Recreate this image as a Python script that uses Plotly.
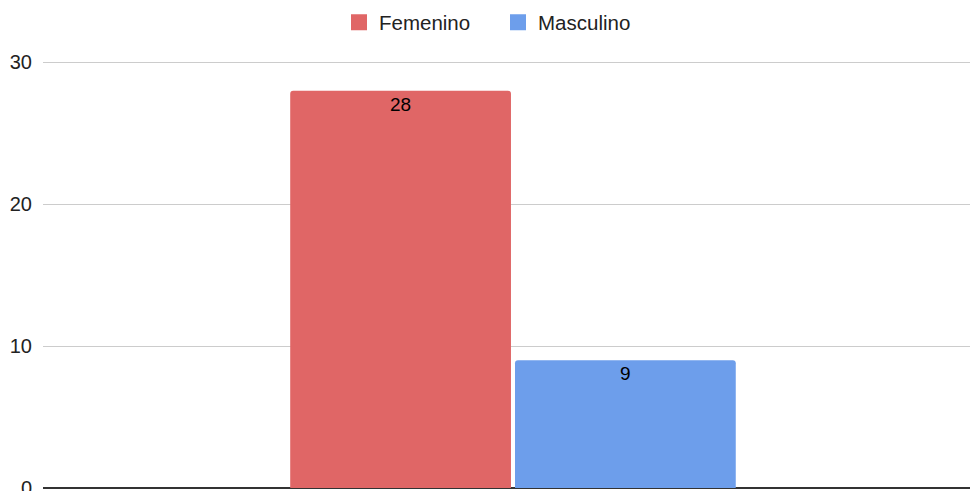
import plotly.graph_objects as go

categories = [""]
series_names = ["Femenino", "Masculino"]
femenino = [28]
masculino = [9]
colors = ["#e06666", "#6d9eeb"]
y_ticks = [0, 10, 20, 30]

FONT = "Liberation Sans, Arial, sans-serif"

fig = go.Figure()
for name, vals, col in zip(series_names, [femenino, masculino], colors):
    fig.add_trace(go.Bar(
        x=categories, y=vals, name=name, showlegend=False,
        marker=dict(color=col, cornerradius=3, line=dict(width=0)),
        text=[str(v) for v in vals], textposition="inside", insidetextanchor="end",
        textfont=dict(color="#000000", size=19, family=FONT),
        textangle=0,
    ))
# legend entries with square symbols
for name, col in zip(series_names, colors):
    fig.add_trace(go.Scatter(
        x=[None], y=[None], mode="markers", name=name,
        marker=dict(symbol="square", size=20, color=col),
    ))

fig.update_layout(
    width=970, height=491,
    margin=dict(l=43, r=0, t=61, b=3, autoexpand=False),
    paper_bgcolor="white", plot_bgcolor="white",
    barmode="group", bargap=0.515, bargroupgap=0.018,
    font=dict(family=FONT, size=20, color="#222222"),
    showlegend=True,
    legend=dict(orientation="h", x=(339 - 43) / 927, xanchor="left", yref="container",
                y=0.995, yanchor="top", font=dict(size=20.5, color="#222222"),
                itemsizing="trace", entrywidth=114, entrywidthmode="pixels"),
    xaxis=dict(range=[-0.507, 0.493], showticklabels=False, showgrid=False,
               showline=False, zeroline=False, fixedrange=True),
    yaxis=dict(range=[0, 30.1], tickvals=y_ticks, showgrid=True, gridcolor="#cccccc",
               gridwidth=1, zeroline=True, zerolinecolor="#333333", zerolinewidth=1.5,
               showline=False, ticks="", ticklabelstandoff=10, ticklabeloverflow="allow"),
)
fig.write_html("out.html", config={"displayModeBar": False},
               post_script="document.body.style.margin='0';document.body.style.overflow='hidden';")
